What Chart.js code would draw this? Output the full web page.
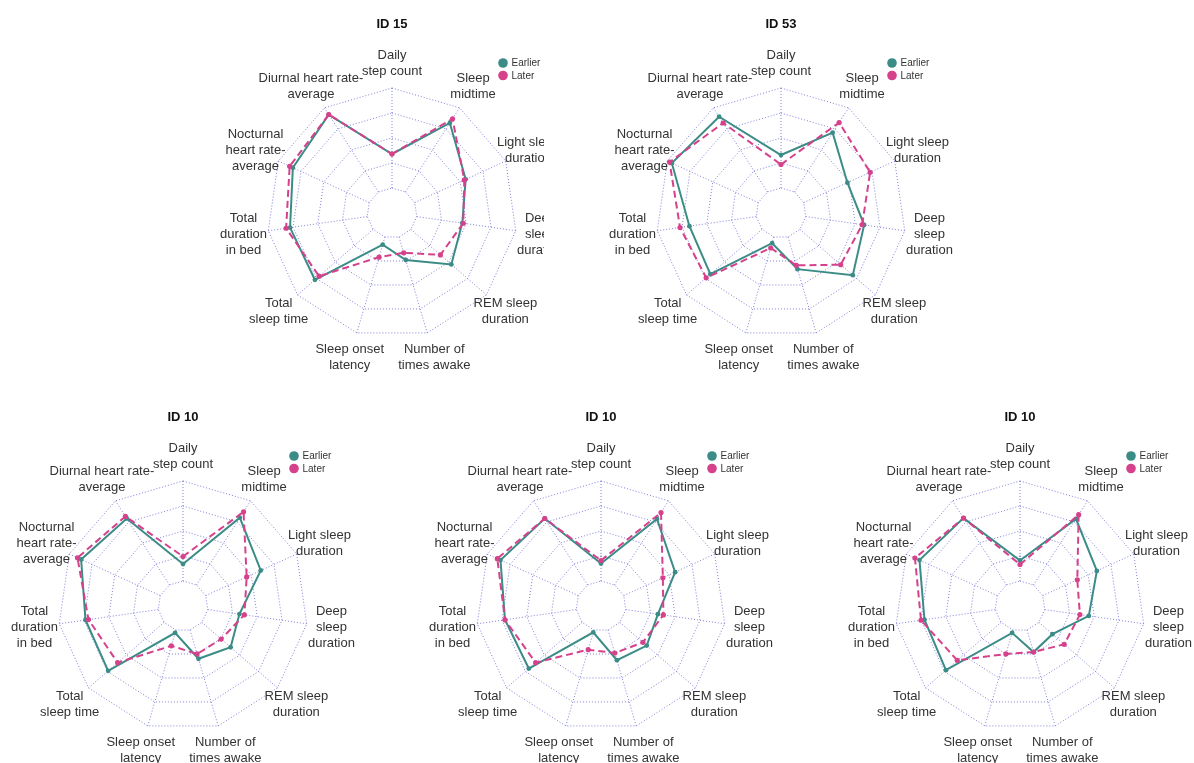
<!DOCTYPE html>
<html>
<head>
<meta charset="utf-8">
<script src="https://cdn.jsdelivr.net/npm/chart.js@4/dist/chart.umd.min.js"></script>
<style>
  html, body { margin: 0; padding: 0; background: #ffffff; }
  body { width: 1194px; height: 763px; position: relative; overflow: hidden; }
  canvas { position: absolute; }
</style>
</head>
<body>
<canvas id="p0"></canvas>
<canvas id="p1"></canvas>
<canvas id="p2"></canvas>
<canvas id="p3"></canvas>
<canvas id="p4"></canvas>
<script>
// Axis names, clockwise from the top
const axisLabels = [
  ['Daily', 'step count'],
  ['Sleep', 'midtime'],
  ['Light sleep', 'duration'],
  ['Deep', 'sleep', 'duration'],
  ['REM sleep', 'duration'],
  ['Number of', 'times awake'],
  ['Sleep onset', 'latency'],
  ['Total', 'sleep time'],
  ['Total', 'duration', 'in bed'],
  ['Nocturnal', 'heart rate-', 'average'],
  ['Diurnal heart rate-', 'average']
];

const seriesNames = ['Earlier', 'Later'];
const panelTitles = ['ID 15', 'ID 53', 'ID 10', 'ID 10', 'ID 10'];

// Normalised scores (0 = inner ring, 1 = outer ring)
const id15Earlier = [0.34, 0.82, 0.56, 0.46, 0.535, 0.24, 0.08, 0.77, 0.78, 0.84, 0.92];
const id15Later   = [0.34, 0.87, 0.545, 0.47, 0.39, 0.165, 0.21, 0.715, 0.82, 0.875, 0.92];

const id53Earlier = [0.33, 0.705, 0.48, 0.59, 0.70, 0.335, 0.065, 0.685, 0.675, 0.95, 0.895];
const id53Later   = [0.235, 0.825, 0.73, 0.57, 0.54, 0.295, 0.115, 0.74, 0.77, 0.975, 0.82];

const id10aEarlier = [0.17, 0.80, 0.605, 0.32, 0.38, 0.30, 0.03, 0.74, 0.735, 0.87, 0.79];
const id10aLater   = [0.245, 0.87, 0.45, 0.37, 0.255, 0.25, 0.165, 0.615, 0.705, 0.91, 0.815];

const id10bEarlier = [0.175, 0.785, 0.565, 0.325, 0.355, 0.315, 0.025, 0.705, 0.72, 0.855, 0.79];
const id10bLater   = [0.205, 0.86, 0.43, 0.38, 0.305, 0.24, 0.205, 0.615, 0.72, 0.89, 0.79];

const id10cEarlier = [0.205, 0.785, 0.595, 0.445, 0.18, 0.23, 0.03, 0.73, 0.715, 0.855, 0.795];
const id10cLater   = [0.165, 0.835, 0.38, 0.355, 0.335, 0.23, 0.25, 0.58, 0.75, 0.905, 0.795];

const panelSeries = [
  [id15Earlier, id15Later],
  [id53Earlier, id53Later],
  [id10aEarlier, id10aLater],
  [id10bEarlier, id10bLater],
  [id10cEarlier, id10cLater]
];

const TEAL = '#3b8c87';
const PINK = '#d6418c';
const GRID = 'rgba(95,95,210,0.8)';
const GRID_DASH = [1, 2];
const TEXT = '#333333';
const FONT = '"Liberation Sans", Arial, Helvetica, sans-serif';
const RADIUS = 125;

// Canvas placement: left, top, width, height, centre inside the canvas
const panelBoxes = [
  { left: 124, top: 0,   w: 420, h: 390, cx: 268, cy: 213 },
  { left: 571, top: 0,   w: 420, h: 390, cx: 210, cy: 213 },
  { left: 0,   top: 393, w: 400, h: 370, cx: 183, cy: 213 },
  { left: 401, top: 393, w: 400, h: 370, cx: 200, cy: 213 },
  { left: 820, top: 393, w: 374, h: 370, cx: 200, cy: 213 }
];

// Spokes that start at the inner ring, plus labels, title and legend
const panelDecor = {
  id: 'panelDecor',
  beforeDatasetsDraw(chart) {
    const s = chart.scales.r;
    const ctx = chart.ctx;
    const r0 = s.getDistanceFromCenterForValue(0);
    const r1 = s.getDistanceFromCenterForValue(1);
    ctx.save();
    ctx.strokeStyle = GRID;
    ctx.lineWidth = 1;
    ctx.setLineDash(GRID_DASH);
    for (let i = 0; i < chart.data.labels.length; i++) {
      const a = s.getPointPosition(i, r0);
      const b = s.getPointPosition(i, r1);
      ctx.beginPath();
      ctx.moveTo(a.x, a.y);
      ctx.lineTo(b.x, b.y);
      ctx.stroke();
    }
    ctx.restore();
  },
  afterDraw(chart, args, opts) {
    const s = chart.scales.r;
    const ctx = chart.ctx;
    const cx = s.xCenter, cy = s.yCenter, R = s.drawingArea;
    ctx.save();
    // axis names, centred at 1.2 × radius
    ctx.fillStyle = TEXT;
    ctx.font = '13px ' + FONT;
    ctx.textAlign = 'center';
    ctx.textBaseline = 'middle';
    const lh = 16;
    chart.data.labels.forEach((lines, i) => {
      const p = s.getPointPosition(i, R * 1.2);
      const y0 = p.y - (lines.length - 1) * lh / 2;
      lines.forEach((t, k) => ctx.fillText(t, p.x, y0 + k * lh));
    });
    // title
    ctx.font = 'bold 13px ' + FONT;
    ctx.fillStyle = '#111111';
    ctx.fillText(opts.title, cx, cy - 189);
    // legend
    ctx.font = '10px ' + FONT;
    ctx.textAlign = 'left';
    chart.data.datasets.forEach((ds, k) => {
      const lx = cx + 111, ly = cy - 150 + k * 12.5;
      ctx.beginPath();
      ctx.arc(lx, ly, 4.8, 0, Math.PI * 2);
      ctx.fillStyle = ds.borderColor;
      ctx.fill();
      ctx.fillStyle = TEXT;
      ctx.fillText(ds.label, lx + 8.5, ly + 0.5);
    });
    ctx.restore();
  }
};

panelBoxes.forEach((box, idx) => {
  const cv = document.getElementById('p' + idx);
  cv.width = box.w;
  cv.height = box.h;
  cv.style.left = box.left + 'px';
  cv.style.top = box.top + 'px';
  const [earlier, later] = panelSeries[idx];
  new Chart(cv, {
    type: 'radar',
    data: {
      labels: axisLabels,
      datasets: [
        {
          label: seriesNames[0],
          data: earlier,
          order: 1,
          borderColor: TEAL,
          backgroundColor: TEAL,
          borderWidth: 2,
          fill: false,
          pointRadius: 2.4,
          pointBackgroundColor: TEAL,
          pointBorderWidth: 0
        },
        {
          label: seriesNames[1],
          data: later,
          order: 0,
          borderColor: PINK,
          backgroundColor: PINK,
          borderWidth: 2,
          borderDash: [7, 4],
          fill: false,
          pointRadius: 2.6,
          pointBackgroundColor: PINK,
          pointBorderWidth: 0
        }
      ]
    },
    options: {
      responsive: false,
      animation: false,
      devicePixelRatio: 1,
      layout: {
        padding: {
          left: box.cx - RADIUS,
          top: box.cy - RADIUS,
          right: box.w - box.cx - RADIUS,
          bottom: box.h - box.cy - RADIUS
        }
      },
      elements: { line: { tension: 0 } },
      scales: {
        r: {
          min: -0.25,
          max: 1,
          ticks: { display: false, stepSize: 0.25 },
          pointLabels: { display: false },
          angleLines: { display: false },
          grid: {
            circular: false,
            color: GRID,
            lineWidth: 1,
            borderDash: GRID_DASH
          },
          border: { dash: GRID_DASH }
        }
      },
      plugins: {
        legend: { display: false },
        tooltip: { enabled: false },
        title: { display: false },
        panelDecor: { title: panelTitles[idx] }
      }
    },
    plugins: [panelDecor]
  });
});
</script>
</body>
</html>
